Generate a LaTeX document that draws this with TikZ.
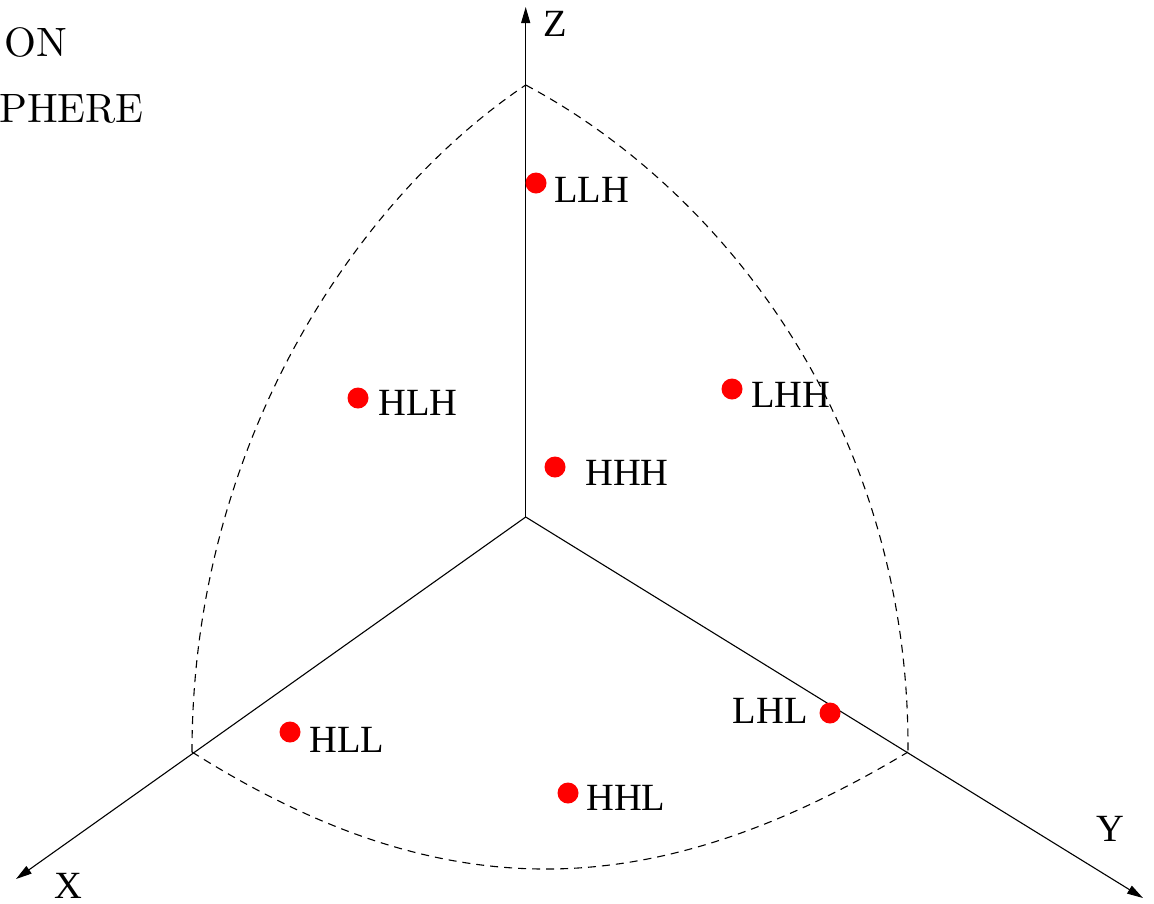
\documentclass[tikz,border=0pt]{standalone}
\usepackage{fontspec}
\newfontfamily\tms{Liberation Serif}
\newfontfamily\cmten{lmroman10-regular.otf}
\usetikzlibrary{arrows.meta}
\tikzset{
  axis/.style={line width=1.1pt, -{Triangle[length=16pt,width=9pt]}},
  arcline/.style={line width=1.1pt, dash pattern=on 8pt off 6pt},
  dot/.style={circle, fill=red, draw=none, inner sep=0pt, minimum size=21pt},
  lbl/.style={inner sep=0pt, font=\tms\fontsize{38.5}{41}\selectfont},
  ttl/.style={inner sep=0pt, anchor=base west, font=\cmten\fontsize{41}{44}\selectfont}
}
\begin{document}
\begin{tikzpicture}[x=1pt,y=-1pt]
\useasboundingbox (0,0) rectangle (1154,903);
% axes
\coordinate (O) at (525.7,517);
\coordinate (Zt) at (525.7,7);
\coordinate (Xt) at (16,879);
\coordinate (Yt) at (1143,898);
\draw[axis] (O) -- (Zt);
\draw[axis] (O) -- (Xt);
\draw[axis] (O) -- (Yt);
\node[lbl, anchor=base west] (zl) at (543,36) {Z};
\node[lbl, anchor=base west] (xl) at (54,898) {X};
\node[lbl, anchor=base west] (yl) at (1096,841) {Y};
% octant boundary
\coordinate (Ps) at (525.7,85);
\coordinate (Px) at (192,752);
\coordinate (Py) at (908,752);
\draw[arcline] (Px) .. controls (192,440) and (360,196) .. (Ps);
\draw[arcline] (Ps) .. controls (725,191) and (910,430) .. (Py);
\draw[arcline] (Px) .. controls (446,912) and (654,904) .. (Py);
% points
\node[dot] (llh) at (536,183) {};
\node[lbl, anchor=base west] (llht) at (554,202) {LLH};
\node[dot] (hlh) at (358,398) {};
\node[lbl, anchor=base west] (hlht) at (378,415) {HLH};
\node[dot] (hhh) at (555,467) {};
\node[lbl, anchor=base west] (hhht) at (585,485) {HHH};
\node[dot] (lhh) at (732,389) {};
\node[lbl, anchor=base west] (lhht) at (751,407) {LHH};
\node[dot] (hll) at (290,732) {};
\node[lbl, anchor=base west] (hllt) at (309,752) {HLL};
\node[dot] (hhl) at (568,793) {};
\node[lbl, anchor=base west] (hhlt) at (586,810) {HHL};
\node[dot] (lhl) at (830,713) {};
\node[lbl, anchor=base east] (lhlt) at (808,723) {LHL};
% title fragments
\node[ttl] (t1) at (4,56) {ON};
\node[ttl] (t2) at (-1,122) {PHERE};
\end{tikzpicture}
\end{document}
